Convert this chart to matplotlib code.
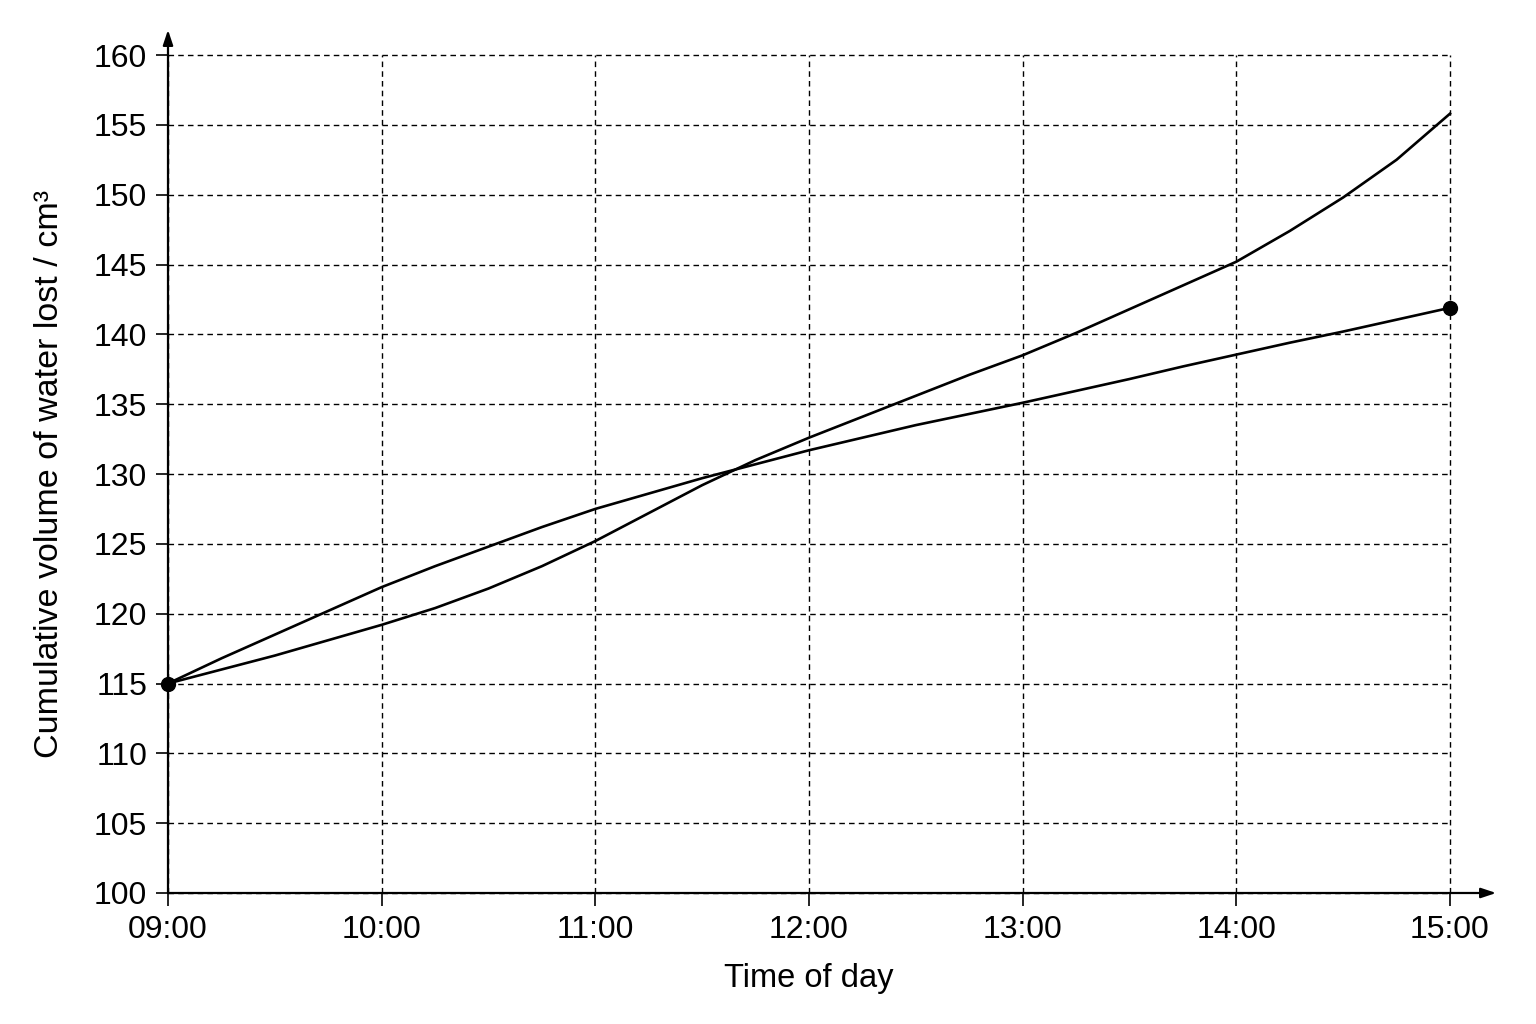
import matplotlib
matplotlib.use("Agg")
import matplotlib.pyplot as plt

plt.rcParams['font.family'] = ['Liberation Sans', 'DejaVu Sans']

# time in hours, read every quarter hour
hours = [9.0, 9.25, 9.5, 9.75, 10.0, 10.25, 10.5, 10.75, 11.0, 11.25, 11.5, 11.75,
         12.0, 12.25, 12.5, 12.75, 13.0, 13.25, 13.5, 13.75, 14.0, 14.25, 14.5, 14.75, 15.0]
# near-straight line between the two marked points
line_a = [115.0, 116.8, 118.5, 120.2, 121.9, 123.4, 124.8, 126.2, 127.5, 128.6, 129.7, 130.7,
          131.7, 132.6, 133.5, 134.3, 135.1, 135.95, 136.8, 137.7, 138.55, 139.4, 140.2, 141.05, 141.9]
# curve that bends upward
line_b = [115.0, 116.0, 117.0, 118.1, 119.2, 120.4, 121.8, 123.4, 125.2, 127.2, 129.2, 131.0,
          132.6, 134.1, 135.6, 137.1, 138.5, 140.1, 141.8, 143.5, 145.2, 147.4, 149.8, 152.5, 155.8]

tick_hours = [9, 10, 11, 12, 13, 14, 15]
tick_labels = ['09:00', '10:00', '11:00', '12:00', '13:00', '14:00', '15:00']
y_ticks = list(range(100, 161, 5))

fig = plt.figure(figsize=(15.36, 10.24), dpi=100)
ax = fig.add_axes([168 / 1536, 1 - 893 / 1024, (1450 - 168) / 1536, (893 - 55) / 1024])

for series in (line_a, line_b):
    ax.plot(hours, series, color='black', lw=1.9, solid_joinstyle='round',
            clip_on=False, zorder=3)
ax.plot([hours[0], hours[-1]], [line_a[0], line_a[-1]], 'o', color='black',
        markersize=10, clip_on=False, zorder=4)

ax.set_xlim(9, 15)
ax.set_ylim(100, 160)
ax.set_xticks(tick_hours)
ax.set_xticklabels(tick_labels)
ax.set_yticks(y_ticks)
ax.tick_params(direction='out', length=9, width=1.2, labelsize=23)
ax.tick_params(axis='x', pad=7)
ax.tick_params(axis='y', pad=6)

ax.grid(True, color='black', linestyle=(0, (4, 3)), linewidth=1.0)
for gl in ax.get_xgridlines() + ax.get_ygridlines():
    gl.set_clip_on(False)
for s in ax.spines.values():
    s.set_visible(False)

# axes with arrow heads
ax.annotate('', xy=(1.036, 0), xytext=(0, 0), xycoords='axes fraction',
            arrowprops=dict(arrowstyle='-|>,head_length=0.9,head_width=0.3',
                            color='black', lw=1.6, shrinkA=0, shrinkB=0))
ax.annotate('', xy=(0, 1.03), xytext=(0, 0), xycoords='axes fraction',
            arrowprops=dict(arrowstyle='-|>,head_length=0.9,head_width=0.3',
                            color='black', lw=1.6, shrinkA=0, shrinkB=0))

ax.set_xlabel('Time of day', fontsize=23.5, labelpad=13)
ax.set_ylabel('Cumulative volume of water lost / cm³', fontsize=24.5, labelpad=21)

fig.savefig('out.png', dpi=100, facecolor='white')
